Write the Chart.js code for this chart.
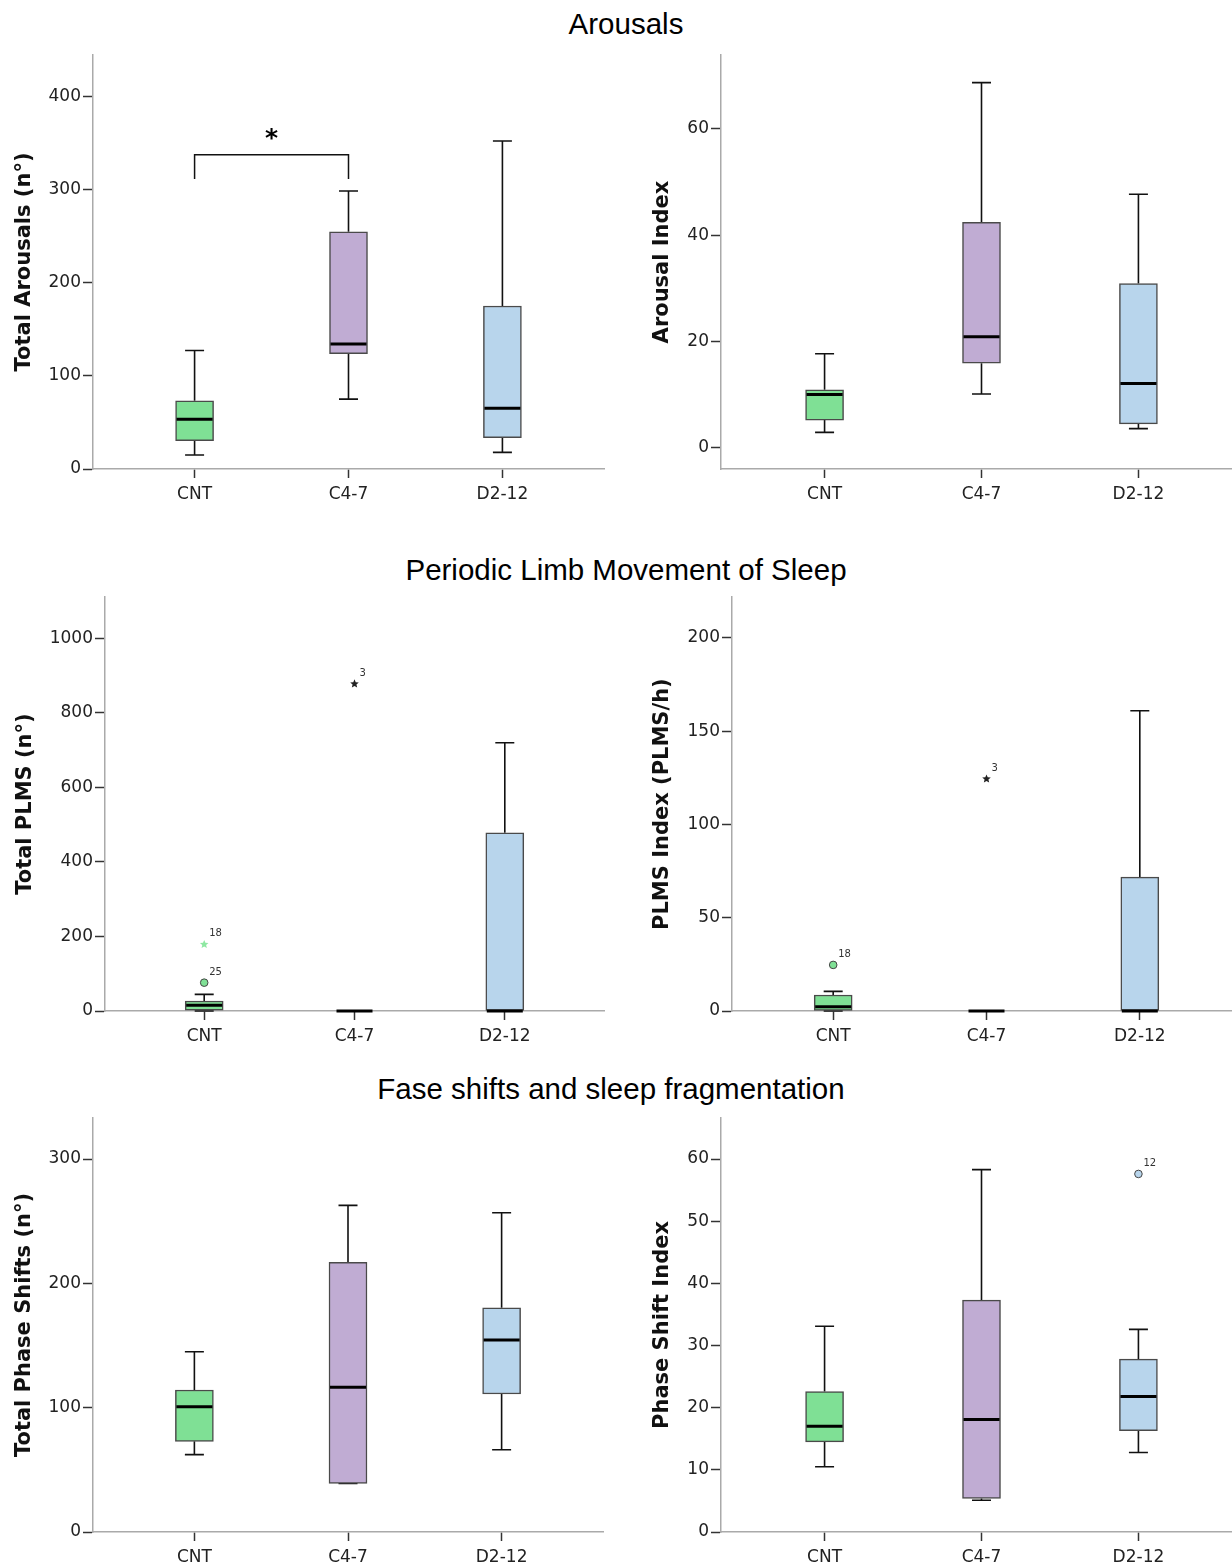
<!DOCTYPE html>
<html>
<head>
<meta charset="utf-8">
<title>Sleep parameters by group</title>
<script src="https://cdn.jsdelivr.net/npm/chart.js@4.4.1/dist/chart.umd.min.js"></script>
<style>
  html, body { margin: 0; padding: 0; background: #fff; overflow: hidden; width: 1232px; height: 1564px; }
  .section { position: absolute; font-family: 'Liberation Sans', Arial, sans-serif; font-size: 29.5px; line-height: 30px; color: #000; white-space: nowrap; transform: translateX(-50%); }
  canvas { position: absolute; }
</style>
</head>
<body>
<div class="section" style="left:626px; top:9px;">Arousals</div>
<div class="section" style="left:626px; top:555px;">Periodic Limb Movement of Sleep</div>
<div class="section" style="left:611px; top:1074px;">Fase shifts and sleep fragmentation</div>

<canvas id="arousals-total" width="620" height="490" style="left:0; top:40px;"></canvas>
<canvas id="arousal-index" width="625" height="490" style="left:620px; top:40px;"></canvas>
<canvas id="plms-total" width="620" height="480" style="left:0; top:585px;"></canvas>
<canvas id="plms-index" width="625" height="480" style="left:620px; top:585px;"></canvas>
<canvas id="phase-total" width="620" height="459" style="left:0; top:1105px;"></canvas>
<canvas id="phase-index" width="625" height="459" style="left:620px; top:1105px;"></canvas>

<script>
const groups = ['CNT', 'C4-7', 'D2-12'];
const groupColors = ['#7fe095', '#c0acd3', '#b8d5ec'];
const starColors = ['#8ee8a2', '#222222', '#222222'];

// per group: [lower whisker, Q1, median, Q3, upper whisker]
const arousalsTotal = [[15, 30.4, 53.6, 73.3, 127.3], [75.1, 124, 134.4, 254.9, 298.8], [17.9, 33.6, 65.4, 175.2, 352.5]];
const arousalIndex = [[2.9, 5.2, 10, 10.9, 17.7], [10.1, 15.9, 20.9, 42.4, 68.7], [3.6, 4.5, 12.1, 30.9, 47.7]];
const plmsTotal = [[0, 2, 15.2, 26.8, 44.7], [0, 0, 0, 0, 0], [0, 0, 0, 478, 719.4]];
const plmsIndex = [[0, 0, 2.3, 8.6, 10.5], [0, 0, 0, 0, 0], [0, 0, 0, 71.8, 160.9]];
const phaseShiftsTotal = [[62.2, 72.9, 100.8, 114.2, 145], [39.1, 39.1, 116.4, 216.9, 262.7], [66.2, 111, 154.4, 180.4, 256.8]];
const phaseShiftIndex = [[10.5, 14.5, 17, 22.6, 33.1], [5.1, 5.4, 18.1, 37.3, 58.3], [12.8, 16.3, 21.8, 27.8, 32.6]];

// outliers: [group, value, case number, marker]
const plmsTotalOutliers = [[0, 178.7, '18', 'star'], [0, 76, '25', 'circle'], [1, 877.5, '3', 'star']];
const plmsIndexOutliers = [[0, 24.7, '18', 'circle'], [1, 124.4, '3', 'star']];
const phaseShiftIndexOutliers = [[2, 57.6, '12', 'circle']];

// [from group, to group, leg end, bracket top]
const arousalsTotalBracket = [0, 1, 311.7, 337.8];

const arousalsTotalTicks = [0, 100, 200, 300, 400];
const arousalIndexTicks = [0, 20, 40, 60];
const plmsTotalTicks = [0, 200, 400, 600, 800, 1000];
const plmsIndexTicks = [0, 50, 100, 150, 200];
const phaseShiftsTotalTicks = [0, 100, 200, 300];
const phaseShiftIndexTicks = [0, 10, 20, 30, 40, 50, 60];

const BOX_WIDTH = 38;
const tickFont = { family: 'DejaVu Sans', size: 17 };

function drawStar(ctx, cx, cy, r) {
  ctx.beginPath();
  for (let k = 0; k < 10; k++) {
    const rad = k % 2 === 0 ? r : r * 0.45;
    const a = -Math.PI / 2 + k * Math.PI / 5;
    const px = cx + rad * Math.cos(a);
    const py = cy + rad * Math.sin(a);
    if (k === 0) ctx.moveTo(px, py); else ctx.lineTo(px, py);
  }
  ctx.closePath();
  ctx.fill();
}

// whiskers, medians, outliers and brackets around the floating bars
const boxParts = {
  id: 'boxParts',
  beforeDatasetsDraw(chart, args, opts) {
    const { ctx, scales: { x, y } } = chart;
    const cap = BOX_WIDTH / 4;
    ctx.save();
    ctx.strokeStyle = '#111';
    ctx.lineWidth = 1.6;
    opts.stats.forEach((s, i) => {
      const cx = x.getPixelForValue(i);
      ctx.beginPath();
      ctx.moveTo(cx, y.getPixelForValue(s[0]));
      ctx.lineTo(cx, y.getPixelForValue(s[1]));
      ctx.moveTo(cx, y.getPixelForValue(s[3]));
      ctx.lineTo(cx, y.getPixelForValue(s[4]));
      ctx.moveTo(cx - cap, y.getPixelForValue(s[0]));
      ctx.lineTo(cx + cap, y.getPixelForValue(s[0]));
      ctx.moveTo(cx - cap, y.getPixelForValue(s[4]));
      ctx.lineTo(cx + cap, y.getPixelForValue(s[4]));
      ctx.stroke();
    });
    ctx.restore();
  },
  afterDatasetsDraw(chart, args, opts) {
    const { ctx, scales: { x, y } } = chart;
    const half = BOX_WIDTH / 2;
    ctx.save();
    ctx.strokeStyle = '#000';
    ctx.lineWidth = 3;
    opts.stats.forEach((s, i) => {
      const cx = x.getPixelForValue(i);
      const my = y.getPixelForValue(s[2]);
      ctx.beginPath();
      ctx.moveTo(cx - half + 1, my);
      ctx.lineTo(cx + half - 1, my);
      ctx.stroke();
    });

    (opts.outliers || []).forEach(([g, v, label, marker]) => {
      const px = x.getPixelForValue(g);
      const py = y.getPixelForValue(v);
      if (marker === 'circle') {
        ctx.beginPath();
        ctx.arc(px, py, 3.8, 0, Math.PI * 2);
        ctx.fillStyle = groupColors[g];
        ctx.fill();
        ctx.lineWidth = 1;
        ctx.strokeStyle = '#444';
        ctx.stroke();
      } else {
        ctx.fillStyle = starColors[g];
        drawStar(ctx, px, py, 4.5);
      }
      ctx.fillStyle = '#333';
      ctx.font = '10px "DejaVu Sans"';
      ctx.textAlign = 'left';
      ctx.textBaseline = 'alphabetic';
      ctx.fillText(label, px + 5, py - 8);
    });

    if (opts.bracket) {
      const [g1, g2, legEnd, top] = opts.bracket;
      const x1 = x.getPixelForValue(g1);
      const x2 = x.getPixelForValue(g2);
      const yTop = y.getPixelForValue(top);
      const yLeg = y.getPixelForValue(legEnd);
      ctx.strokeStyle = '#111';
      ctx.lineWidth = 1.5;
      ctx.beginPath();
      ctx.moveTo(x1, yLeg);
      ctx.lineTo(x1, yTop);
      ctx.lineTo(x2, yTop);
      ctx.lineTo(x2, yLeg);
      ctx.stroke();
      ctx.fillStyle = '#000';
      ctx.font = 'bold 25px "DejaVu Sans"';
      ctx.textAlign = 'center';
      ctx.textBaseline = 'alphabetic';
      ctx.fillText('*', (x1 + x2) / 2, yTop - 9);
    }
    ctx.restore();
  }
};

function makePanel(id, cfg) {
  return new Chart(document.getElementById(id), {
    type: 'bar',
    data: {
      datasets: [{
        data: cfg.stats.map((s, i) => ({ x: i, y: [s[1], s[3]] })),
        backgroundColor: groupColors,
        borderColor: '#4a4a4a',
        borderWidth: 1.5,
        borderSkipped: false,
        barThickness: BOX_WIDTH
      }]
    },
    options: {
      responsive: false,
      animation: false,
      events: [],
      layout: { padding: { top: cfg.padTop, right: cfg.padRight, left: 0, bottom: 0 } },
      plugins: {
        legend: { display: false },
        tooltip: { enabled: false },
        boxParts: { stats: cfg.stats, outliers: cfg.outliers, bracket: cfg.bracket }
      },
      scales: {
        x: {
          type: 'linear',
          min: -0.66,
          max: 2.66,
          offset: false,
          afterBuildTicks: s => { s.ticks = groups.map((g, i) => ({ value: i })); },
          afterFit: s => { s.height = cfg.xHeight; },
          ticks: { callback: v => groups[v], font: tickFont, color: '#222', padding: 6, autoSkip: false, maxRotation: 0 },
          grid: { drawOnChartArea: false, offset: false, tickLength: 9, tickWidth: 1.5, tickColor: '#333' },
          border: { color: '#aaaaaa', width: 1.5 }
        },
        y: {
          min: cfg.min,
          max: cfg.max,
          afterBuildTicks: s => { s.ticks = cfg.ticks.map(v => ({ value: v })); },
          afterFit: s => { s.width = cfg.yWidth; },
          ticks: { callback: v => String(v), font: tickFont, color: '#222', padding: 2, autoSkip: false },
          grid: { drawOnChartArea: false, tickLength: 10, tickWidth: 1.5, tickColor: '#333' },
          border: { color: '#aaaaaa', width: 1.5 },
          title: {
            display: true,
            text: cfg.title,
            color: '#111',
            font: { family: 'DejaVu Sans', size: 21, weight: 'bold' },
            padding: { top: cfg.titlePad, bottom: 0 }
          }
        }
      }
    },
    plugins: [boxParts]
  });
}

makePanel('arousals-total', {
  stats: arousalsTotal, ticks: arousalsTotalTicks, min: 0, max: 445, bracket: arousalsTotalBracket,
  title: 'Total Arousals (n°)', yWidth: 93, xHeight: 61, padTop: 15, padRight: 16, titlePad: 12
});
makePanel('arousal-index', {
  stats: arousalIndex, ticks: arousalIndexTicks, min: -4, max: 73.9,
  title: 'Arousal Index', yWidth: 101, xHeight: 61, padTop: 15, padRight: 3, titlePad: 30
});
makePanel('plms-total', {
  stats: plmsTotal, ticks: plmsTotalTicks, min: 0, max: 1110, outliers: plmsTotalOutliers,
  title: 'Total PLMS (n°)', yWidth: 105, xHeight: 54, padTop: 12, padRight: 16, titlePad: 13
});
makePanel('plms-index', {
  stats: plmsIndex, ticks: plmsIndexTicks, min: 0, max: 221.8, outliers: plmsIndexOutliers,
  title: 'PLMS Index (PLMS/h)', yWidth: 112, xHeight: 54, padTop: 12, padRight: 4, titlePad: 30
});
makePanel('phase-total', {
  stats: phaseShiftsTotal, ticks: phaseShiftsTotalTicks, min: 0, max: 333,
  title: 'Total Phase Shifts (n°)', yWidth: 93, xHeight: 32, padTop: 13, padRight: 17, titlePad: 12
});
makePanel('phase-index', {
  stats: phaseShiftIndex, ticks: phaseShiftIndexTicks, min: 0, max: 66.6, outliers: phaseShiftIndexOutliers,
  title: 'Phase Shift Index', yWidth: 101, xHeight: 32, padTop: 13, padRight: 3, titlePad: 30
});
</script>
</body>
</html>
